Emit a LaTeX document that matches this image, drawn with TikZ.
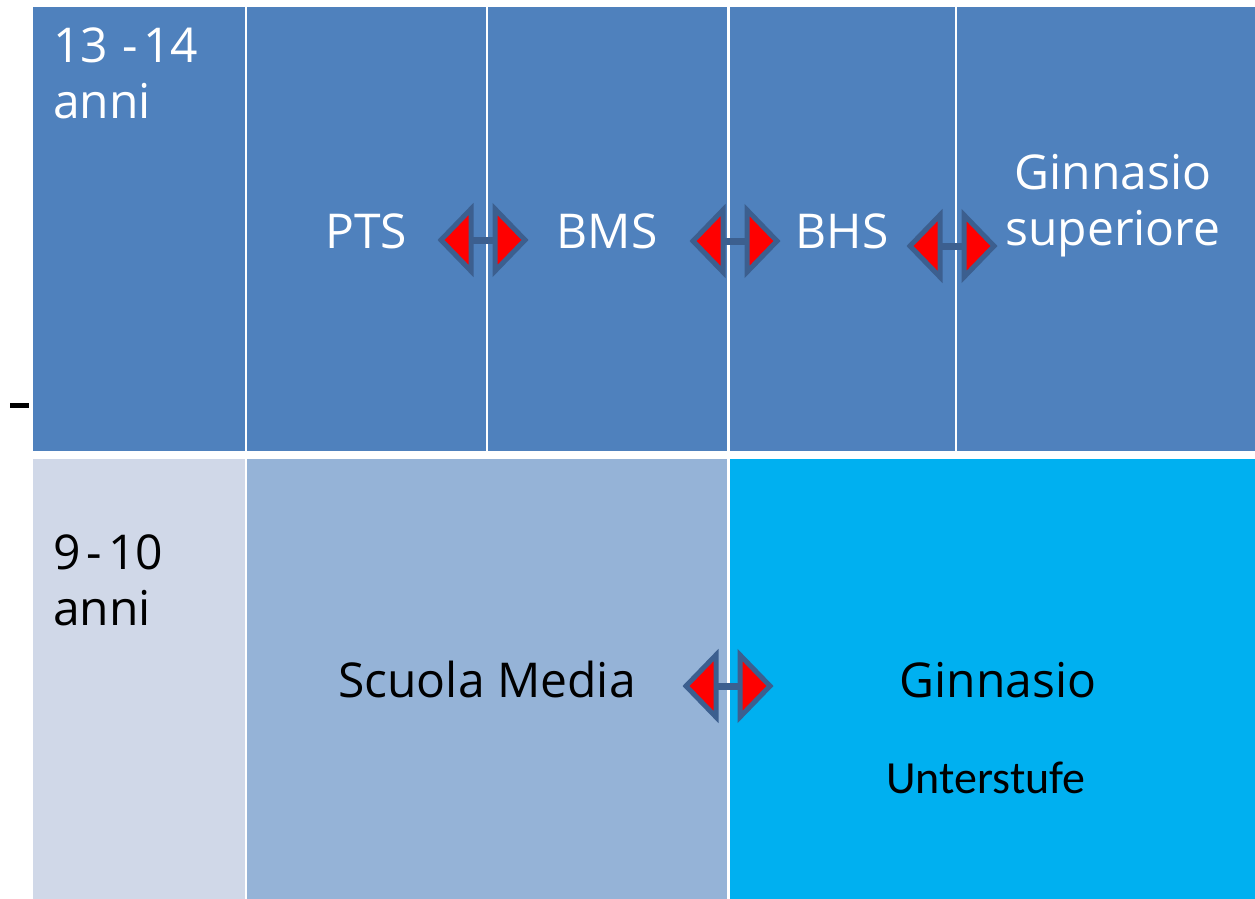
\documentclass[tikz,border=0pt]{standalone}
\usepackage{fontspec}
\setmainfont{Open Sans}
\newfontfamily\calfont{Carlito}
\definecolor{topblue}{HTML}{4F81BD}
\definecolor{paleblue}{HTML}{D0D8E8}
\definecolor{midblue}{HTML}{95B3D7}
\definecolor{cyanblue}{HTML}{00B0F0}
\definecolor{arrowedge}{HTML}{3C5F8F}
\tikzset{
  cell/.style={fill=#1, draw=none},
  lbl/.style={inner sep=0pt, font=\fontsize{48}{56}\selectfont},
  wlbl/.style={lbl, text=white},
  arrowhead/.style={fill=red, draw=arrowedge, line width=5pt, line join=miter},
  arrowshaft/.style={draw=arrowedge, line width=7pt}
}
\newcommand{\mydarrow}[2]{%
  \begin{scope}[shift={(#1,#2)}]
    \draw[arrowshaft] (-14,0) -- (14,0);
    \draw[arrowhead] (-42,0) -- (-12,-31) -- (-12,31) -- cycle;
    \draw[arrowhead] (42,0) -- (12,-31) -- (12,31) -- cycle;
  \end{scope}}
\begin{document}
\begin{tikzpicture}[x=1pt,y=-1pt]
\useasboundingbox[fill=white] (0,0) rectangle (1255,899);
% top row
\fill[cell=topblue] (33,7) rectangle (245,451);
\fill[cell=topblue] (247,7) rectangle (486,451);
\fill[cell=topblue] (488,7) rectangle (727,451);
\fill[cell=topblue] (730,7) rectangle (955,451);
\fill[cell=topblue] (957,7) rectangle (1255,451);
% bottom row
\fill[cell=paleblue] (33,459) rectangle (245,899);
\fill[cell=midblue] (247,459) rectangle (727,899);
\fill[cell=cyanblue] (730,459) rectangle (1255,899);
% stray dash
\draw[line width=5pt] (10,405) -- (29,405);
% labels
\node[wlbl, anchor=north west, align=left] (age1) at (53,28) {13\hspace{14pt}-\hspace{6pt}14\\anni};
\node[wlbl, anchor=base] (pts) at (366,248) {PTS};
\node[wlbl, anchor=base] (bms) at (607,248) {BMS};
\node[wlbl, anchor=base] (bhs) at (842,248) {BHS};
\node[wlbl, align=center] (gsup) at (1113,206) {Ginnasio\\superiore};
\node[lbl, anchor=north west, align=left] (age2) at (53,534) {9\hspace{6pt}-\hspace{6pt}10\\anni};
\node[lbl, anchor=base] (sm) at (487,697) {Scuola Media};
\node[lbl, anchor=base] (gin) at (998,697) {Ginnasio};
\node[inner sep=0pt, anchor=base, font=\calfont\fontsize{46}{52}\selectfont] (unt) at (986,793) {Unterstufe};
% double arrows
\mydarrow{483}{240}
\mydarrow{735}{241}
\mydarrow{952}{246}
\mydarrow{728}{686}
\end{tikzpicture}
\end{document}
